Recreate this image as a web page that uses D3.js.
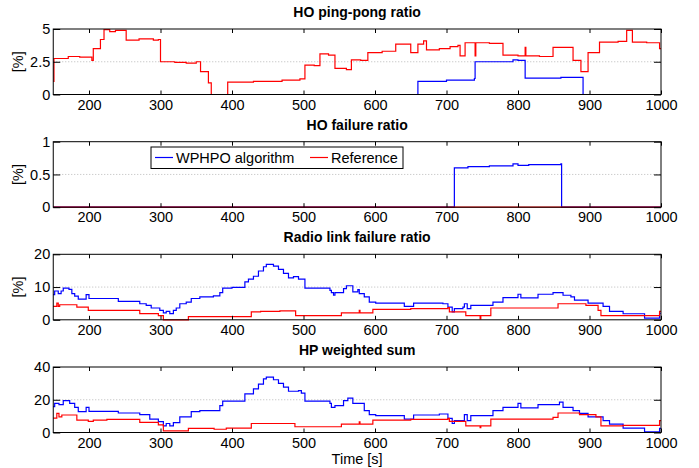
<!DOCTYPE html>
<html>
<head>
<meta charset="utf-8">
<script src="https://cdn.jsdelivr.net/npm/d3@7"></script>
<style>
  body { margin: 0; background: #fff; }
  svg { font-family: "Liberation Sans", Arial, sans-serif; }
</style>
</head>
<body>
<div id="chart"></div>
<script>
// time axis
let timeDomain = [150, 1000];
let timeTicks = [200, 300, 400, 500, 600, 700, 800, 900, 1000];

let titles = ["HO ping-pong ratio", "HO failure ratio", "Radio link failure ratio", "HP weighted sum"];
let yTicks = [[0, 2.5, 5], [0, 0.5, 1], [0, 10, 20], [0, 20, 40]];
let yLabels = ["[%]", "[%]", "[%]", ""];
let seriesNames = ["WPHPO algorithm", "Reference"];

// [time, value] step points
let pingWphpo = [[150,0],[660,1.0],[700,1.1],[739,1.22],[740,2.5],[793,2.65],[800,2.6],[810,1.25],[860,1.3],[880,1.3],[891,0]];
let pingRef = [[150,1.0],[151,2.75],[171,2.9],[187,2.85],[204,2.6],[206,3.5],[216,4.2],[221,4.95],[229,4.8],[237,4.9],[252,4.15],[270,4.25],[290,4.15],[297,4.2],[300,2.5],[320,2.45],[336,2.4],[350,2.5],[356,1.75],[367,0.88],[371,0],[394,0.95],[430,1.0],[470,1.1],[495,1.2],[502,2.25],[515,2.2],[523,3.1],[535,3.0],[544,2.0],[560,1.9],[567,2.65],[580,2.6],[590,3.2],[610,3.3],[629,3.85],[650,3.2],[660,3.85],[668,4.1],[672,3.4],[690,3.5],[705,3.65],[716,3.75],[719,2.95],[726,3.95],[740,2.95],[741,3.95],[760,3.9],[779,3.0],[800,2.95],[810,3.6],[811,2.95],[830,2.9],[849,3.6],[877,2.6],[888,1.75],[893,1.75],[898,3.2],[914,4.0],[940,4.05],[952,4.9],[960,4.0],[980,3.95],[998,3.5]];

let failWphpo = [[150,0],[711,0.6],[730,0.62],[760,0.63],[793,0.66],[800,0.64],[815,0.65],[860,0.66],[861,0]];
let failRef = [[150,0]];

let rlfWphpo = [[150,7.7],[152,8.8],[157,8.0],[161,8.8],[164,9.7],[172,9.3],[176,8.0],[180,7.2],[185,6.3],[196,7.7],[200,6.5],[241,5.6],[271,4.9],[280,4.4],[287,3.6],[299,2.9],[304,2.1],[308,2.6],[313,1.9],[318,2.9],[322,3.6],[327,4.9],[336,5.4],[343,6.5],[355,7.0],[374,7.3],[383,8.3],[387,9.7],[400,9.9],[418,11.6],[423,12.4],[430,13.3],[437,14.9],[444,16.2],[448,16.9],[458,16.4],[465,15.4],[472,14.2],[479,12.8],[486,13.2],[493,12.4],[502,9.7],[537,9.0],[539,8.3],[542,7.5],[544,8.3],[556,9.5],[560,10.4],[569,8.5],[576,9.2],[578,8.0],[585,7.0],[592,5.4],[601,5.1],[641,4.1],[654,5.1],[695,4.9],[702,3.9],[708,2.4],[711,3.4],[723,3.9],[725,4.9],[729,3.4],[734,4.4],[765,5.4],[779,6.8],[800,7.8],[804,6.7],[828,7.8],[849,8.3],[863,7.5],[874,7.0],[879,6.0],[898,5.1],[919,4.1],[928,2.6],[947,1.85],[977,0.5],[998,2.0]];
let rlfRef = [[150,4.1],[155,5.1],[157,4.1],[159,4.6],[183,3.9],[199,2.9],[271,1.9],[297,1.3],[304,0],[339,1.0],[427,2.4],[440,2.6],[467,2.7],[489,1.3],[553,2.1],[578,2.9],[579,2.1],[597,3.2],[650,3.4],[702,3.7],[704,2.4],[727,1.3],[747,0.3],[748,1.3],[762,3.6],[856,4.9],[895,4.4],[912,2.9],[916,1.3],[998,2.6]];

let hpWphpo = [[150,15.8],[152,17.8],[158,17.0],[164,19.5],[173,17.8],[180,15.4],[185,12.7],[196,15.4],[200,12.9],[241,11.9],[271,10.9],[285,8.2],[297,6.6],[304,4.1],[308,5.5],[313,4.1],[318,6.0],[327,9.6],[343,12.7],[355,13.3],[383,16.4],[387,19.1],[418,23.6],[430,26.7],[437,29.5],[444,32.8],[448,33.8],[458,32.2],[465,30],[472,27.7],[479,25.2],[493,25.6],[497,24],[502,19.1],[537,17.8],[539,15.4],[544,16.4],[556,19.5],[562,21],[569,17.8],[585,13.3],[592,10.9],[601,10.3],[641,8.2],[654,10.7],[690,11.3],[702,8.6],[708,5.5],[711,7.2],[725,10.9],[729,7.2],[734,10.3],[765,13.3],[779,15.4],[800,17.8],[804,15.0],[828,17.0],[858,18.5],[863,15.4],[877,13.3],[886,11.7],[898,9.6],[919,7.2],[928,5.1],[947,2.7],[977,0.4],[998,2.5]];
let hpRef = [[150,8.8],[155,11.7],[158,9.6],[162,10.7],[183,7.6],[199,6.8],[206,7.6],[225,8.0],[271,6.2],[297,4.7],[304,1.0],[339,2.5],[375,2.0],[392,2.7],[427,5.5],[488,3.5],[553,5.1],[578,6.5],[579,5.1],[597,7.6],[650,8.0],[702,8.6],[704,6.8],[727,4.1],[747,3.0],[748,4.1],[762,8.2],[849,9.2],[856,11.9],[886,10.9],[909,9.6],[916,4.1],[947,4.3],[998,7.2]];

let blueSeries = [pingWphpo, failWphpo, rlfWphpo, hpWphpo];
let redSeries = [pingRef, failRef, rlfRef, hpRef];

let width = 699,
  height = 468;

let left = 53.25, right = 661, plotH = 65.5;
let tops = [29, 141.7, 254.3, 367];

let svg = d3.select("#chart")
  .append("svg")
  .attr("width", width)
  .attr("height", height);

let x = d3.scaleLinear().domain(timeDomain).range([left, right]);

// extend last step to the end of the axis
function withEnd(pts) {
  return pts.concat([[timeDomain[1], pts[pts.length - 1][1]]]);
}

titles.forEach((title, i) => {
  let top = tops[i], bottom = top + plotH;
  let yt = yTicks[i];
  let y = d3.scaleLinear().domain([yt[0], yt[yt.length - 1]]).range([bottom, top]);

  let g = svg.append("g");

  // dotted grid
  g.selectAll(".grid")
    .data(yt.slice(1, -1))
    .join("line")
    .attr("x1", left).attr("x2", right)
    .attr("y1", d => y(d)).attr("y2", d => y(d))
    .attr("stroke", "#aaa")
    .attr("stroke-width", 0.8)
    .attr("stroke-dasharray", "1,2");

  let line = d3.line()
    .x(d => x(d[0]))
    .y(d => y(d[1]))
    .curve(d3.curveStepAfter);

  g.append("path")
    .datum(withEnd(blueSeries[i]))
    .attr("d", line)
    .attr("fill", "none")
    .attr("stroke", "#0000ff")
    .attr("stroke-width", 1.2);

  g.append("path")
    .datum(withEnd(redSeries[i]))
    .attr("d", line)
    .attr("fill", "none")
    .attr("stroke", "#ff0000")
    .attr("stroke-width", 1.2);

  // axes, inward ticks (matlab style box)
  let xb = d3.axisBottom(x).tickValues(timeTicks).tickSizeInner(-4).tickSizeOuter(0).tickPadding(5)
    .tickFormat(d3.format("d"));
  let xt = d3.axisTop(x).tickValues(timeTicks).tickSizeInner(-4).tickSizeOuter(0).tickFormat("");
  let yl = d3.axisLeft(y).tickValues(yt).tickSizeInner(-7).tickSizeOuter(0).tickPadding(3)
    .tickFormat(d3.format("~g"));
  let yr = d3.axisRight(y).tickValues(yt).tickSizeInner(-7).tickSizeOuter(0).tickFormat("");

  g.append("g").attr("transform", `translate(0,${bottom})`).call(xb);
  g.append("g").attr("transform", `translate(0,${top})`).call(xt);
  g.append("g").attr("transform", `translate(${left},0)`).call(yl);
  g.append("g").attr("transform", `translate(${right},0)`).call(yr);

  g.selectAll(".domain").remove();
  g.selectAll(".tick line").attr("stroke", "#000");
  g.selectAll(".tick text").attr("font-size", 14.5).attr("fill", "#000")
    .attr("font-family", "Liberation Sans, Arial, sans-serif");

  g.append("rect")
    .attr("x", left).attr("y", top)
    .attr("width", right - left).attr("height", plotH)
    .attr("fill", "none")
    .attr("stroke", "#000")
    .attr("stroke-width", 1);

  g.append("text")
    .attr("x", (left + right) / 2)
    .attr("y", top - 12)
    .attr("text-anchor", "middle")
    .attr("font-size", 14)
    .attr("font-weight", "bold")
    .text(title);

  if (yLabels[i]) {
    g.append("text")
      .attr("transform", `translate(23,${(top + bottom) / 2}) rotate(-90)`)
      .attr("text-anchor", "middle")
      .attr("font-size", 14.5)
      .text(yLabels[i]);
  }
});

// x label
svg.append("text")
  .attr("x", (left + right) / 2)
  .attr("y", 464)
  .attr("text-anchor", "middle")
  .attr("font-size", 14.5)
  .text("Time [s]");

// legend in the second panel
let legend = svg.append("g").attr("transform", "translate(151,147)");
legend.append("rect")
  .attr("width", 252).attr("height", 21.5)
  .attr("fill", "#fff").attr("stroke", "#000").attr("stroke-width", 1);

let legendItems = [
  { name: seriesNames[0], color: "#0000ff", x0: 4 },
  { name: seriesNames[1], color: "#ff0000", x0: 159 }
];
legendItems.forEach(d => {
  legend.append("line")
    .attr("x1", d.x0).attr("x2", d.x0 + 18)
    .attr("y1", 10.5).attr("y2", 10.5)
    .attr("stroke", d.color).attr("stroke-width", 1.2);
  legend.append("text")
    .attr("x", d.x0 + 21).attr("y", 15.5)
    .attr("font-size", 14.5)
    .text(d.name);
});
</script>
</body>
</html>
